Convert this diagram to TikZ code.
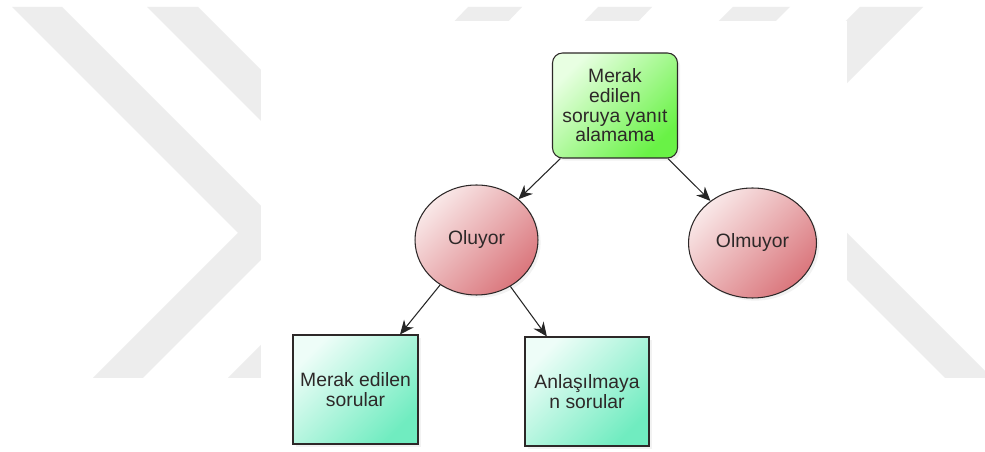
\documentclass[tikz,border=0pt]{standalone}
\usepackage{fontspec}
\setmainfont{Liberation Sans}
\usetikzlibrary{shapes.geometric,arrows.meta,shadows}

\definecolor{wmgray}{RGB}{237,237,237}
\definecolor{inkdark}{RGB}{45,40,40}
\definecolor{greenlight}{RGB}{232,255,226}
\definecolor{greendeep}{RGB}{105,242,70}
\definecolor{pinklight}{RGB}{249,232,232}
\definecolor{pinkdeep}{RGB}{218,118,124}
\definecolor{aqualight}{RGB}{238,253,248}
\definecolor{aquadeep}{RGB}{112,236,192}

\begin{document}
\begin{tikzpicture}[x=0.02cm,y=-0.02cm,
  every node/.style={font=\fontsize{11}{11.2}\selectfont, text=inkdark, align=center, inner sep=1pt},
  softshadow/.style={drop shadow={opacity=0.10, shadow xshift=1.5pt, shadow yshift=-1.5pt}},
  question/.style={draw=inkdark, line width=0.6pt, rounded corners=0.2cm,
    minimum width=2.5cm, minimum height=2.1cm,
    top color=greenlight, bottom color=greendeep, shading angle=45, softshadow},
  answer/.style={ellipse, draw=inkdark, line width=0.6pt,
    minimum height=2.2cm,
    top color=pinklight, bottom color=pinkdeep, shading angle=45, softshadow},
  leafbox/.style={draw=inkdark, line width=0.6pt,
    minimum width=2.5cm, minimum height=2.18cm,
    top color=aqualight, bottom color=aquadeep, shading angle=45, softshadow},
  link/.style={draw=black!85, line width=0.6pt, -{Stealth[length=8pt,width=7pt]}}]

% page frame
\useasboundingbox (0,0) rectangle (985,452);
\fill[white] (0,0) rectangle (985,452);

% background chevron pattern
\begin{scope}
  \clip (0,7) rectangle (985,378);
  \fill[wmgray] (12,7) -- (62,7) -- (288,233) -- (143,378) -- (93,378) -- (238,233) -- cycle;
  \fill[wmgray] (147,7) -- (198,7) -- (424,233) -- (279,378) -- (228,378) -- (373,233) -- cycle;
  \fill[wmgray] (468,7) -- (522,7) -- (500,30) -- (446,30) -- cycle;
  \fill[wmgray] (598,7) -- (652,7) -- (630,30) -- (576,30) -- cycle;
  \fill[wmgray] (733,7) -- (790,7) -- (767,30) -- (710,30) -- cycle;
  \fill[wmgray] (860,7) -- (923,7) -- (800,130) -- (800,67) -- cycle;
  \fill[wmgray] (800,186) -- (985,371) -- (985,378) -- (945,378) -- (800,233) -- cycle;
\end{scope}
\fill[white] (261,21) rectangle (847,452);

% nodes
\node[question] (top) at (615,105.5) {Merak\\edilen\\soruya yanıt\\alamama};
\node[answer, minimum width=2.46cm] (yes) at (476.5,240) {Oluyor};
\node[answer, minimum width=2.56cm] (no) at (752.5,243) {Olmuyor};
\node[leafbox] (asked) at (355.5,389.5) {Merak edilen\\sorular};
\node[leafbox, minimum width=2.48cm] (unclear) at (587,391.5) {Anlaşılmaya\\n sorular};

% connectors
\draw[link] (top) -- (yes);
\draw[link] (top) -- (no);
\draw[link] (yes) -- (asked);
\draw[link] (yes) -- (unclear);
\end{tikzpicture}
\end{document}
